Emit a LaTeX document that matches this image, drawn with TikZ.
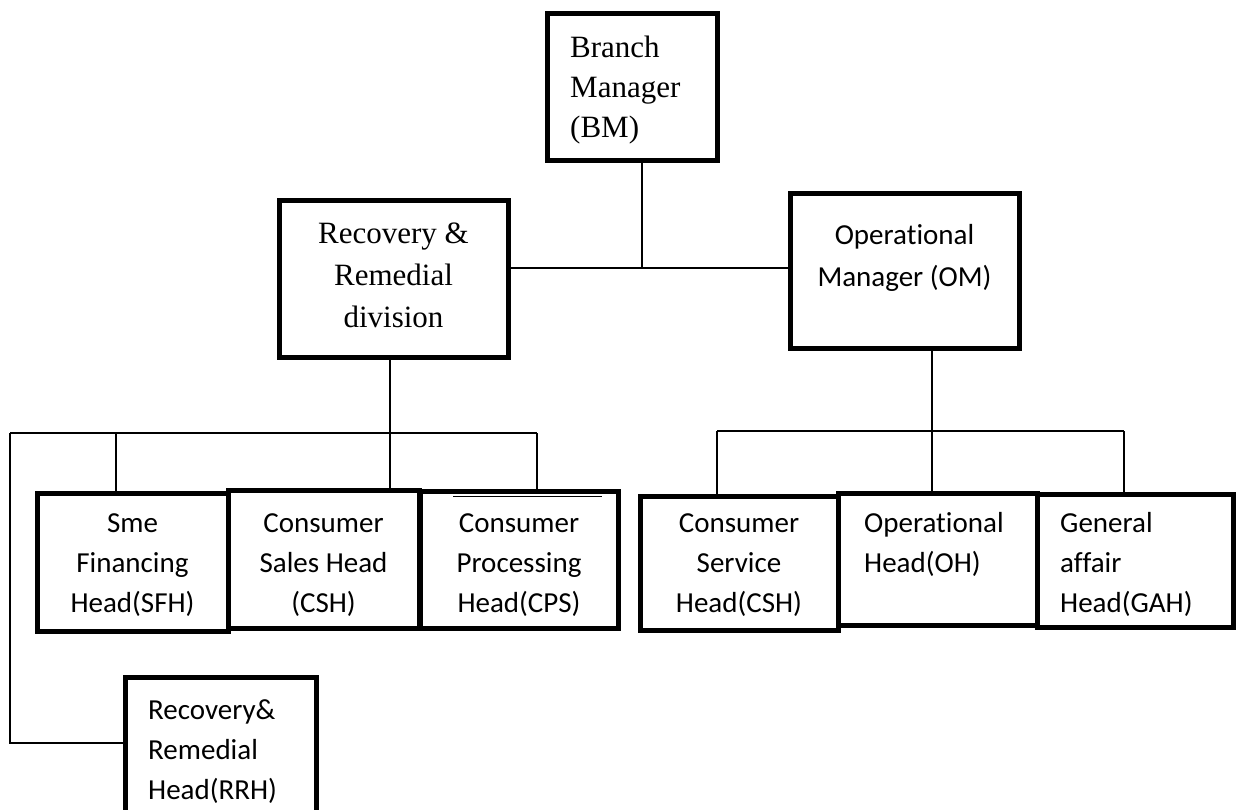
\documentclass[tikz,border=0pt]{standalone}
\usepackage{fontspec}
\setmainfont{Liberation Serif}
\newfontfamily\calfont{Carlito}[Ligatures={NoCommon}]
\begin{document}
\begin{tikzpicture}[x=1pt,y=-1pt,
  box/.style={draw=black, line width=5pt, inner sep=0pt},
  conn/.style={draw=black, line width=1.5pt},
  sertext/.style={font=\fontsize{31}{40}\selectfont, inner sep=0pt},
  caltext/.style={font=\calfont\fontsize{29}{40}\selectfont, inner sep=0pt}]
\fill[white] (0,0) rectangle (1236,809);
\clip (0,0) rectangle (1236,809);

% boxes
\node[box, minimum width=170pt, minimum height=147pt] (BM) at (632,86.5) {};
\node[box, minimum width=229pt, minimum height=157pt] (RRD) at (393.5,278.5) {};
\node[box, minimum width=229pt, minimum height=155pt] (OM) at (904.5,270.5) {};
\node[box, minimum width=191pt, minimum height=138pt] (SFH) at (132.5,562) {};
\node[box, minimum width=191pt, minimum height=138pt] (CSH) at (323.5,559) {};
\node[box, minimum width=198pt, minimum height=137pt] (CPS) at (519,559.5) {};
\node[box, minimum width=198pt, minimum height=134pt] (CSHB) at (739,563) {};
\node[box, minimum width=199pt, minimum height=132pt] (OH) at (937.5,559) {};
\node[box, minimum width=196pt, minimum height=133pt] (GAH) at (1135,560.5) {};
\node[box, minimum width=191pt, minimum height=163pt] (RRH) at (220.5,758.5) {};

% texts
\node[sertext, anchor=north west, align=left] (BMt) at (570,29) {\strut Branch\\Manager\\(BM)};
\node[sertext, font=\fontsize{31}{42}\selectfont, anchor=north, align=center] (RRDt) at (393.5,213.6) {\strut Recovery \&\\Remedial\\division};
\node[caltext, font=\calfont\fontsize{29}{42}\selectfont, anchor=north, align=center] (OMt) at (904.5,214.6) {\strut Operational\\Manager (OM)};
\node[caltext, anchor=north, align=center] (SFHt) at (132.5,504) {\strut Sme\\Financing\\Head(SFH)};
\node[caltext, anchor=north, align=center] (CSHt) at (323.5,504) {\strut Consumer\\Sales Head\\(CSH)};
\node[caltext, anchor=north, align=center] (CPSt) at (519,504) {\strut Consumer\\Processing\\Head(CPS)};
\node[caltext, anchor=north, align=center] (CSHBt) at (739,504) {\strut Consumer\\Service\\Head(CSH)};
\node[caltext, anchor=north west, align=left] (OHt) at (864,504) {\strut Operational\\Head(OH)};
\node[caltext, anchor=north west, align=left] (GAHt) at (1060,504) {\strut General\\affair\\Head(GAH)};
\node[caltext, anchor=north west, align=left] (RRHt) at (148,691) {\strut Recovery\&\\Remedial\\Head(RRH)};

% extra thin line inside CPS
\coordinate (cpsa) at (453,496.5);
\coordinate (cpsb) at (602,496.5);
\draw[conn] (cpsa) -- (cpsb);

% connectors top
\coordinate (j1) at (642,268);
\draw[conn] (j1 |- BM.south) -- (j1);
\draw[conn] (RRD.east |- j1) -- (OM.west |- j1);

% left branch
\coordinate (j2) at (390,433);
\coordinate (l0) at (10,433);
\coordinate (a1) at (116,433);
\coordinate (l3) at (537,433);
\coordinate (r0) at (10,743);
\draw[conn] (j2 |- RRD.south) -- (j2);
\draw[conn] (l0) -- (l3);
\draw[conn] (a1) -- (a1 |- SFH.north);
\draw[conn] (j2) -- (j2 |- CSH.north);
\draw[conn] (l3) -- (l3 |- CPS.north);
\draw[conn] (l0) -- (r0) -- (r0 -| RRH.west);

% right branch
\coordinate (m) at (932,431);
\coordinate (r1) at (717,431);
\coordinate (r3) at (1124,431);
\draw[conn] (m |- OM.south) -- (m);
\draw[conn] (r1) -- (r3);
\draw[conn] (r1) -- (r1 |- CSHB.north);
\draw[conn] (m) -- (m |- OH.north);
\draw[conn] (r3) -- (r3 |- GAH.north);
\end{tikzpicture}
\end{document}
